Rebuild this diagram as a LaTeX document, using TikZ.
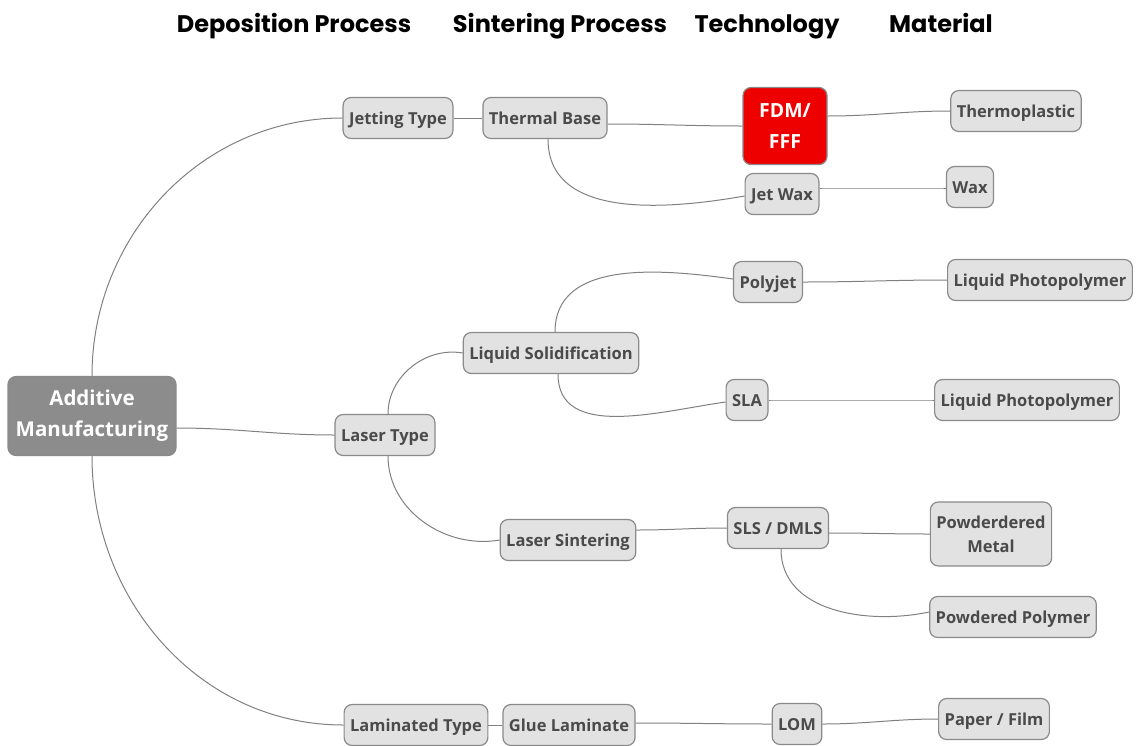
\documentclass[tikz,border=0pt]{standalone}
\usepackage{fontspec}
\setmainfont{Open Sans}
\newfontfamily\hdrfont{Poppins}
\definecolor{linegray}{HTML}{808080}
\definecolor{boxfill}{HTML}{E2E2E2}
\definecolor{boxdraw}{HTML}{8A8A8A}
\definecolor{boxtext}{HTML}{4A4A4A}
\definecolor{rootfill}{HTML}{8C8C8C}
\definecolor{fdmred}{HTML}{EE0000}
\tikzset{
  topic/.style={draw=boxdraw, fill=boxfill, line width=1.2pt, rounded corners=8pt,
    text=boxtext, font=\fontsize{16.5}{24}\selectfont\bfseries, inner xsep=6pt,
    minimum height=41pt, align=center, text height=12pt, text depth=0pt},
  multi/.style={text height=, text depth=},
  root/.style={topic, multi, fill=rootfill, draw=boxdraw, text=white,
    font=\fontsize{20.5}{31}\selectfont\bfseries, minimum width=168pt, minimum height=79pt},
  hot/.style={topic, multi, fill=fdmred, draw=boxdraw, text=white,
    font=\fontsize{19.5}{31}\selectfont\bfseries, minimum width=84pt, minimum height=77pt},
  hdr/.style={font=\fontsize{24}{28}\selectfont\hdrfont\bfseries, text=black, anchor=base},
  link/.style={draw=linegray, line width=1pt}
}
\begin{document}
\begin{tikzpicture}[x=1pt,y=1pt]
\useasboundingbox (0,0) rectangle (1138,-745);
% headers
\node[hdr] (h1) at (294,-32) {Deposition Process};
\node[hdr] (h2) at (560,-32) {Sintering Process};
\node[hdr] (h3) at (767,-32) {Technology};
\node[hdr] (h4) at (941,-32) {Material};
% nodes
\node[root] (am) at (92,-416) {Additive\\Manufacturing};
\node[topic] (jet) at (398,-118) {Jetting Type};
\node[topic] (tb) at (545,-118) {Thermal Base};
\node[hot] (fdm) at (785,-126) {FDM/\\FFF};
\node[topic] (tp) at (1016,-111) {Thermoplastic};
\node[topic] (jw) at (782,-194) {Jet Wax};
\node[topic] (wax) at (970,-187) {Wax};
\node[topic] (pj) at (768,-282) {Polyjet};
\node[topic] (lp1) at (1040,-280) {Liquid Photopolymer};
\node[topic] (lsol) at (551,-353) {Liquid Solidification};
\node[topic] (sla) at (747,-400) {SLA};
\node[topic] (lp2) at (1027,-400) {Liquid Photopolymer};
\node[topic] (lt) at (385,-435) {Laser Type};
\node[topic] (lsin) at (568,-540) {Laser Sintering};
\node[topic] (sls) at (778,-528) {SLS / DMLS};
\node[topic, multi, minimum height=64pt] (pm) at (991,-534) {Powderdered\\Metal};
\node[topic] (pp) at (1013,-617) {Powdered Polymer};
\node[topic] (lam) at (416,-725) {Laminated Type};
\node[topic] (gl) at (569,-725) {Glue Laminate};
\node[topic] (lom) at (797,-724) {LOM};
\node[topic] (pf) at (994,-719) {Paper / Film};
% connectors
\draw[link] (am.north) to[out=90,in=180] (jet.west);
\draw[link] ([yshift=-12pt]am.east) to[out=0,in=180] (lt.west);
\draw[link] (am.south) to[out=-90,in=180] (lam.west);
\draw[link] (jet.east) -- (tb.west);
\draw[link] ([yshift=-6pt]tb.east) to[out=0,in=180] (fdm.west);
\draw[link] ([xshift=3pt]tb.south) to[out=-90,in=190] ([yshift=-2pt]jw.west);
\draw[link] ([yshift=10pt]fdm.east) to[out=0,in=180] (tp.west);
\draw[link] ([yshift=6pt]jw.east) to[out=0,in=180] ([yshift=-1pt]wax.west);
\draw[link] ([xshift=3pt]lt.north) to[out=90,in=170] (lsol.west);
\draw[link] ([xshift=3pt]lt.south) to[out=-90,in=190] (lsin.west);
\draw[link] ([xshift=4pt]lsol.north) to[out=90,in=172] ([yshift=3pt]pj.west);
\draw[link] ([xshift=7pt]lsol.south) to[out=-90,in=188] ([yshift=-2pt]sla.west);
\draw[link] (pj.east) to[out=0,in=180] (lp1.west);
\draw[link] (sla.east) to[out=0,in=180] (lp2.west);
\draw[link] ([yshift=10pt]lsin.east) to[out=0,in=180] (sls.west);
\draw[link] ([yshift=-5pt]sls.east) to[out=0,in=180] (pm.west);
\draw[link] ([xshift=3pt]sls.south) to[out=-90,in=192] ([yshift=5pt]pp.west);
\draw[link] (lam.east) -- (gl.west);
\draw[link] ([yshift=2pt]gl.east) to[out=0,in=180] (lom.west);
\draw[link] (lom.east) to[out=0,in=180] (pf.west);
\end{tikzpicture}
\end{document}
